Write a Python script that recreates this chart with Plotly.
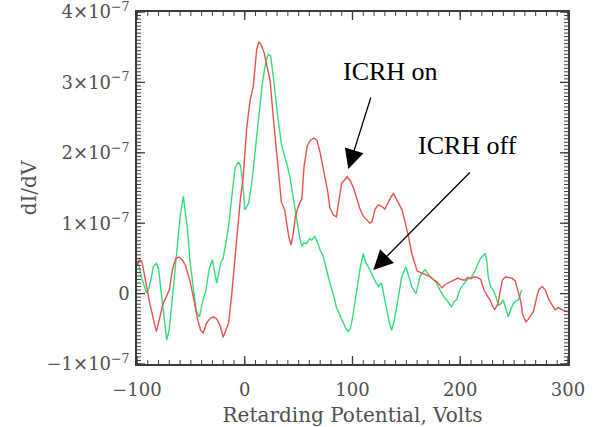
import plotly.graph_objects as go

# Retarding field analyser: derivative of collector current vs retarding voltage
# Values are in units of 1e-7 (scaled when plotted)

v_on = [-100, -98, -95.5, -93, -91, -88, -85, -82, -79, -76, -73, -70, -67, -64, -61, -58, -55,
        -51, -47, -44, -41, -38.5, -35.5, -32, -29, -26, -23, -20, -17, -15, -12, -9, -7, -4,
        -1.5, 1.8, 5, 8, 11, 13, 15, 18, 21, 23.5, 26.5, 29, 31, 34, 37, 39, 41, 43, 45, 47,
        50, 53, 55, 58, 61, 64, 67, 70, 72, 75, 77, 79, 82, 85, 88, 90, 93, 95, 98, 101, 104,
        107, 110, 113, 116, 118, 121, 124, 127, 130, 133, 136, 138, 141, 144, 146, 149, 152,
        155, 158, 160, 163, 166, 169, 172, 175, 178, 181, 183, 186, 189, 192, 195, 198, 201,
        204, 207, 210, 213, 216, 219, 222, 225, 228, 230, 232, 235, 237, 239, 242, 245, 248,
        251, 253, 256, 258, 261, 263, 266, 268, 271, 273, 276, 279, 282, 285, 288, 291, 293,
        297, 300]
didv_on = [0.40, 0.48, 0.46, 0.25, 0.05, -0.15, -0.35, -0.54, -0.35, -0.15, -0.05, 0.05, 0.35,
           0.50, 0.52, 0.48, 0.40, 0.19, -0.10, -0.35, -0.52, -0.56, -0.42, -0.35, -0.33, -0.36,
           -0.45, -0.62, -0.50, -0.42, 0.0, 0.45, 0.85, 1.35, 1.65, 2.35, 2.75, 2.95, 3.46, 3.58,
           3.54, 3.42, 3.20, 3.03, 2.50, 2.10, 1.80, 1.30, 1.19, 1.00, 0.80, 0.69, 0.85, 1.10,
           1.25, 1.35, 1.80, 2.10, 2.18, 2.21, 2.18, 2.00, 1.85, 1.60, 1.45, 1.22, 1.12, 1.09,
           1.35, 1.57, 1.62, 1.66, 1.60, 1.50, 1.35, 1.20, 1.10, 1.05, 1.00, 1.02, 1.20, 1.26,
           1.24, 1.20, 1.30, 1.38, 1.42, 1.33, 1.25, 1.19, 1.00, 0.81, 0.57, 0.40, 0.32, 0.30,
           0.28, 0.25, 0.24, 0.20, 0.17, 0.12, 0.08, 0.13, 0.15, 0.17, 0.19, 0.22, 0.20, 0.19,
           0.23, 0.21, 0.24, 0.23, 0.20, 0.05, -0.03, -0.10, -0.18, -0.23, -0.14, 0.05, 0.19,
           0.24, 0.23, 0.22, 0.18, 0.05, -0.10, -0.30, -0.40, -0.37, -0.30, -0.25, -0.05, 0.06,
           0.10, 0.05, -0.08, -0.15, -0.23, -0.20, -0.22, -0.25, -0.26]

v_off = [-100, -98.8, -97, -95.7, -93, -91, -89, -87, -85, -82, -80, -78.6, -76, -74, -72.4, -70,
         -68, -66, -63, -60, -57, -55, -53, -51, -48, -45, -42, -39, -36, -33, -30, -28, -26,
         -24, -22, -20, -17, -15, -12, -9, -6, -4, -2, 0, 2, 3.5, 6.5, 9, 11, 14, 16, 18, 20,
         22, 24, 26.5, 28, 30, 32, 34, 37, 39, 42, 44, 46.5, 49, 51, 53, 55, 57.5, 60, 62, 65,
         68, 70, 73, 75, 77.5, 80, 82, 85, 88, 91.5, 94, 96, 98, 100, 102, 105, 107, 110, 112,
         114.7, 117, 119, 122, 124, 127, 129.5, 131.7, 134, 136.3, 138.5, 141, 143, 145.7,
         149.6, 152, 155, 159, 162.6, 165, 167.3, 170, 172, 175, 178, 180, 182.8, 185, 187.4,
         190, 192, 194, 196.7, 199, 201.3, 204, 206, 210.6, 213, 215.3, 218, 220, 223, 224.5,
         226, 228, 230.7, 233, 235.4, 237, 240, 242, 244.6, 247, 249.3, 252, 254, 257]
didv_off = [0.40, 0.43, 0.32, 0.22, 0.10, 0.0, 0.08, 0.20, 0.38, 0.43, 0.35, 0.15, -0.25, -0.45,
            -0.66, -0.50, -0.20, 0.15, 0.62, 1.09, 1.38, 1.15, 0.90, 0.48, 0.10, -0.25, -0.33,
            -0.10, 0.05, 0.35, 0.48, 0.30, 0.15, 0.30, 0.45, 0.50, 0.75, 0.95, 1.38, 1.78, 1.87,
            1.82, 1.60, 1.19, 1.24, 1.28, 1.57, 1.95, 2.23, 2.70, 2.94, 3.15, 3.32, 3.40, 3.38,
            3.08, 2.85, 2.60, 2.35, 2.13, 1.95, 1.85, 1.65, 1.45, 1.19, 0.95, 0.80, 0.67, 0.72,
            0.71, 0.78, 0.76, 0.81, 0.71, 0.62, 0.52, 0.38, 0.24, 0.10, 0.0, -0.19, -0.30, -0.42,
            -0.50, -0.54, -0.50, -0.35, -0.15, 0.19, 0.35, 0.57, 0.45, 0.38, 0.30, 0.24, 0.15,
            0.10, 0.15, -0.05, -0.23, -0.40, -0.52, -0.40, -0.19, 0.02, 0.24, 0.38, 0.25, 0.10,
            0.0, 0.24, 0.30, 0.34, 0.28, 0.24, 0.20, 0.15, 0.08, 0.0, -0.05, -0.09, -0.15, -0.19,
            -0.12, -0.09, 0.03, 0.10, 0.15, 0.19, 0.24, 0.30, 0.38, 0.48, 0.52, 0.57, 0.48, 0.24,
            0.10, 0.05, -0.04, -0.17, -0.15, -0.09, -0.20, -0.33, -0.22, -0.14, -0.10, -0.09,
            0.05]

scale = 1e-7
y_ticks = [-1, 0, 1, 2, 3, 4]
y_tick_text = ["\u22121\u00d710<sup>\u22127</sup>", "0", "1\u00d710<sup>\u22127</sup>",
               "2\u00d710<sup>\u22127</sup>", "3\u00d710<sup>\u22127</sup>",
               "4\u00d710<sup>\u22127</sup>"]
x_ticks = [-100, 0, 100, 200, 300]
x_tick_text = ["\u2212100", "0", "100", "200", "300"]

# minor tick spacing: 10 V on x, 0.05e-7 on y
x_minor = [-100 + 10 * i for i in range(41)]
y_minor = [-1 + 0.05 * i for i in range(101)]

W, H = 595, 427
M = dict(l=137, r=27, t=12, b=63)
plot_w = W - M["l"] - M["r"]
plot_h = H - M["t"] - M["b"]

label_font = dict(family="DejaVu Serif", size=18, color="#505050")
title_font = dict(family="DejaVu Serif", size=20, color="#505050")
axis_color = "#3a3a3a"

fig = go.Figure()
fig.add_trace(go.Scatter(x=v_off, y=[d * scale for d in didv_off], mode="lines",
                         line=dict(color="#34de7c", width=1.4), name="ICRH off"))
fig.add_trace(go.Scatter(x=v_on, y=[d * scale for d in didv_on], mode="lines",
                         line=dict(color="#e8534e", width=1.4), name="ICRH on"))

fig.update_layout(
    width=W, height=H,
    margin=M,
    paper_bgcolor="white", plot_bgcolor="white",
    showlegend=False,
    font=label_font,
)
fig.update_xaxes(
    range=[-100, 300], tickmode="array", tickvals=x_ticks, ticktext=x_tick_text,
    ticks="", ticklabelstandoff=9, automargin=False, ticklabeloverflow="allow",
    showline=True, linecolor=axis_color, linewidth=1.5, mirror=True,
    showgrid=False, zeroline=False, tickfont=label_font,
    title=dict(text="Retarding Potential, Volts", font=title_font, standoff=21),
)
fig.update_yaxes(
    range=[-1 * scale, 4 * scale], tickmode="array", tickvals=[t * scale for t in y_ticks],
    ticktext=y_tick_text, ticks="", ticklabelstandoff=2, automargin=False,
    ticklabeloverflow="allow",
    showline=True, linecolor=axis_color, linewidth=1.5, mirror=True,
    showgrid=False, zeroline=False, tickfont=label_font,
    title=dict(text="dI/dV", font=title_font, standoff=5),
)

# inward tick marks on all four sides of the frame
def tick_shapes():
    shapes = []
    for vals, length, width in ((x_ticks, 8, 1.3), (x_minor, 4, 1.0)):
        f = length / plot_h
        for v in vals:
            for y0, y1 in ((0, f), (1, 1 - f)):
                shapes.append(dict(type="line", xref="x", yref="paper", x0=v, x1=v,
                                   y0=y0, y1=y1, line=dict(color=axis_color, width=width)))
    for vals, length, width in ((y_ticks, 8, 1.3), (y_minor, 4, 1.0)):
        f = length / plot_w
        for v in vals:
            for x0, x1 in ((0, f), (1, 1 - f)):
                shapes.append(dict(type="line", xref="paper", yref="y", x0=x0, x1=x1,
                                   y0=v * scale, y1=v * scale,
                                   line=dict(color=axis_color, width=width)))
    return shapes


fig.update_layout(shapes=tick_shapes())

text_font = dict(family="Liberation Serif", size=26, color="black")
fig.add_annotation(x=134.8, y=3.16 * scale, text="ICRH on", showarrow=False, font=text_font)
fig.add_annotation(x=206.7, y=2.11 * scale, text="ICRH off", showarrow=False, font=text_font)

# arrows pointing from each label to its curve
arrow_style = dict(text="", showarrow=True, arrowhead=2, arrowsize=3.0, arrowwidth=1.3,
                   arrowcolor="black", axref="pixel", ayref="pixel")
fig.add_annotation(x=96.1, y=1.77 * scale, ax=23, ay=-73, **arrow_style)
fig.add_annotation(x=119.3, y=0.335 * scale, ax=98, ay=-99, **arrow_style)

fig.write_html("out.html")
